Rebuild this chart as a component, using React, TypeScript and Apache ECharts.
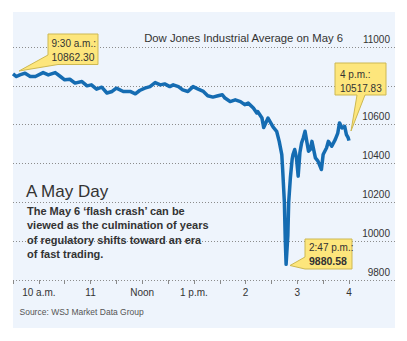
import { useEffect, useRef } from "react";
import * as echarts from "echarts";

// minutes after midnight (9:30 = 570, 16:00 = 960)
const minutes = [
  570, 574, 578, 584, 590, 596, 605, 611, 619, 625, 630, 636, 642, 650, 656, 661, 667, 673, 679, 685,
  690, 698, 706, 712, 717, 723, 729, 735, 741, 746, 752, 756, 762, 767, 773, 779, 785, 791, 796, 802,
  808, 813, 816, 822, 828, 834, 839, 843, 849, 853, 854, 859, 861, 866, 872, 876, 879, 882, 883, 885,
  886, 887, 889, 890, 892, 894, 895, 897, 899, 901, 903, 905, 907, 909, 911, 913, 915, 917, 919, 921,
  924, 928, 930, 934, 936, 940, 944, 947, 949, 952, 955, 957, 959, 960,
];
const values = [
  10862, 10848, 10856, 10865, 10848, 10848, 10868, 10856, 10868, 10848, 10831, 10834, 10814, 10822, 10800, 10805, 10783, 10793, 10763, 10771,
  10788, 10771, 10771, 10759, 10776, 10788, 10796, 10817, 10805, 10810, 10796, 10805, 10796, 10779, 10771, 10796, 10783, 10771, 10749, 10742,
  10749, 10754, 10737, 10719, 10728, 10719, 10703, 10711, 10686, 10660, 10668, 10634, 10585, 10634, 10587, 10566, 10514, 10446, 10369, 10200,
  10010, 9880.58, 10027, 10200, 10328, 10421, 10446, 10472, 10431, 10335, 10455, 10506, 10533, 10566, 10514, 10463, 10472, 10514, 10472, 10429,
  10412, 10369, 10446, 10481, 10514, 10489, 10523, 10557, 10609, 10583, 10591, 10549, 10533, 10517.83,
];

const yTickLabels = [9800, 10000, 10200, 10400, 10600, 11000];
const xTickMinutes = [570, 600, 630, 660, 690, 720, 750, 780, 810, 840, 870, 900, 930, 960];
const xLabelMinutes = [600, 660, 720, 780, 840, 900, 960];
const xLabelTexts = ["10 a.m.", "11", "Noon", "1 p.m.", "2", "3", "4"];

const title = "Dow Jones Industrial Average on May 6";
const headline = "A May Day";
const bodyLines = [
  "The May 6 \u2018flash crash\u2019 can be",
  "viewed as the culmination of years",
  "of regulatory shifts toward an era",
  "of fast trading.",
];
const sourceText = "Source: WSJ Market Data Group";
const openTime = "9:30 a.m.:";
const openValue = "10862.30";
const closeTime = "4 p.m.:";
const closeValue = "10517.83";
const lowTime = "2:47 p.m.:";
const lowValue = "9880.58";

const FONT = "'Liberation Sans', Arial, sans-serif";
const TEXT = "#333333";
const YELLOW = "#fde67c";
const YELLOW_BORDER = "#cdb852";

function txt(x: number, y: number, text: string, size: number, opts: any = {}) {
  return {
    type: "text",
    x,
    y,
    z: 100,
    style: {
      text,
      fontSize: size,
      fontFamily: FONT,
      fontWeight: opts.weight || "normal",
      fill: opts.fill || TEXT,
      align: opts.align || "left",
      verticalAlign: "middle",
    },
  };
}

function callout(points: number[][]) {
  return {
    type: "polygon",
    z: 90,
    shape: { points },
    style: { fill: YELLOW, stroke: YELLOW_BORDER, lineWidth: 1 },
  };
}

export default function App() {
  const ref = useRef<HTMLDivElement>(null);
  useEffect(() => {
    if (!ref.current) return;
    const chart = echarts.init(ref.current, undefined, { renderer: "svg" });
    const data = minutes.map((m, i) => [m, values[i]]);
    chart.setOption({
      animation: false,
      backgroundColor: "#ffffff",
      grid: { left: 13, right: 12, top: 47, bottom: 61, containLabel: false },
      xAxis: {
        type: "value",
        min: 570,
        max: 1013.4,
        interval: 30,
        axisLine: { show: false },
        splitLine: { show: false },
        axisTick: {
          show: true,
          length: 4,
          customValues: xTickMinutes,
          lineStyle: { color: "#8a8a8a", width: 1 },
        },
        axisLabel: {
          customValues: xLabelMinutes,
          margin: 7,
          fontSize: 10,
          fontFamily: FONT,
          color: TEXT,
          formatter: (v: number) => {
            const i = xLabelMinutes.indexOf(Math.round(v));
            return i >= 0 ? xLabelTexts[i] : "";
          },
        },
      },
      yAxis: {
        type: "value",
        position: "right",
        min: 9800,
        max: 11000,
        interval: 200,
        axisLine: { show: false },
        axisTick: { show: false },
        splitLine: { show: true, lineStyle: { color: "#8c8c8c", type: [1, 2], width: 1 } },
        axisLabel: {
          inside: true,
          margin: 5,
          align: "right",
          verticalAlign: "bottom",
          padding: [0, 0, 3, 0],
          fontSize: 10,
          fontFamily: FONT,
          color: TEXT,
          formatter: (v: number) => (yTickLabels.indexOf(Math.round(v)) >= 0 ? String(Math.round(v)) : ""),
        },
      },
      series: [
        {
          type: "line",
          data,
          showSymbol: false,
          symbol: "none",
          lineStyle: { color: "#156cb2", width: 3.5, join: "round" },
          z: 5,
        },
      ],
      graphic: [
        {
          type: "rect",
          z: -10,
          shape: { x: 13, y: 12, width: 382, height: 316 },
          style: { fill: "#eef4fc" },
        },
        txt(343, 38, title, 11.3, { align: "right" }),
        txt(26, 191, headline, 17),
        ...bodyLines.map((l, i) => txt(27, 210.7 + i * 14.5, l, 11, { weight: "bold" })),
        txt(19.5, 311.7, sourceText, 8.5, { fill: "#555555" }),
        callout([[48, 34], [98, 34], [98, 64.5], [58, 64.5], [19, 71], [48, 55]]),
        txt(51.5, 43, openTime, 10),
        txt(51.5, 57.3, openValue, 10.3),
        callout([[335, 63], [386, 63], [386, 95], [365, 95], [351, 131], [357, 95], [335, 95]]),
        txt(340, 74.7, closeTime, 10),
        txt(340, 88.7, closeValue, 10),
        callout([[305, 239], [352, 239], [352, 269], [305, 269], [290, 265.5], [305, 257]]),
        txt(309, 247, lowTime, 10),
        txt(309, 261.3, lowValue, 10.5, { weight: "bold" }),
      ],
    });
    return () => chart.dispose();
  }, []);
  return (
    <div
      ref={ref}
      style={{ position: "absolute", left: 0, top: 0, width: 407, height: 341 }}
    />
  );
}
